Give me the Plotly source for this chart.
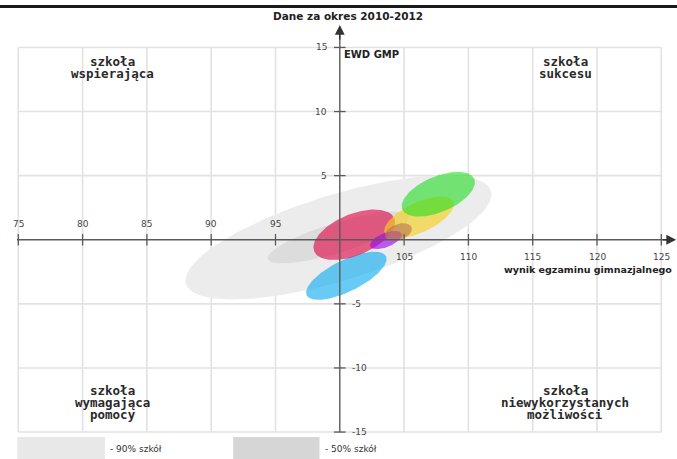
import numpy as np
import plotly.graph_objects as go

# ---------------- data ----------------
x_ticks = [75, 80, 85, 90, 95, 100, 105, 110, 115, 120, 125]
y_ticks = [-15, -10, -5, 0, 5, 10, 15]
x_labels_above = [75, 80, 85, 90, 95]
x_labels_below = [105, 110, 115, 120, 125]
y_labels_left = [5, 10, 15]
y_labels_right = [-5, -10, -15]

# ellipses: centre (x = wynik egzaminu, y = EWD), semi-axes and tilt (deg)
ell_names = ["90% szkół", "50% szkół", "A", "B", "C", "D", "E", "F"]
ell_cx = [99.90, 99.90, 100.51, 101.12, 106.17, 107.66, 103.59, 104.56]
ell_cy = [0.18, 0.18, -2.81, 0.39, 1.74, 3.55, -0.02, 0.60]
ell_a = [12.4, 5.75, 3.44, 3.37, 2.95, 3.04, 1.32, 1.09]
ell_b = [3.35, 1.17, 1.23, 1.61, 1.17, 1.39, 0.55, 0.62]
ell_angle = [17, 17, 26.3, 22.5, 25, 23, 22, 20]
ell_colors = ["#ececec", "#dcdcdc",
              "rgba(9,171,240,0.62)", "rgba(222,12,74,0.64)",
              "rgba(245,209,32,0.65)", "rgba(34,222,34,0.6)",
              "rgba(160,10,235,0.65)", "rgba(190,120,80,0.65)"]

quadrant_texts = [["szkoła", "wspierająca"], ["szkoła", "sukcesu"],
                  ["szkoła", "wymagająca", "pomocy"],
                  ["szkoła", "niewykorzystanych", "możliwości"]]
legend_labels = ["- 90% szkół", "- 50% szkół"]
legend_colors = ["#e8e8e8", "#d6d6d6"]

title_text = "Dane za okres 2010-2012"
y_title = "EWD GMP"
x_title = "wynik egzaminu gimnazjalnego"

# ---------------- layout helpers ----------------
W, H = 677, 459
PXU_X, PXU_Y = 12.86, 12.82
X0_PX, Y0_PX = 18.3, 239.75  # pixel of x=75 and y=0
xr = [75 - X0_PX / PXU_X, 75 + (W - X0_PX) / PXU_X]
yr = [-(H - Y0_PX) / PXU_Y, Y0_PX / PXU_Y]


def px(xp):
    return xp / W


def py(yp):
    return 1 - yp / H


fig = go.Figure()

t = np.linspace(0, 2 * np.pi, 181)
for n, cx, cy, a, b, ang, col in zip(ell_names, ell_cx, ell_cy, ell_a, ell_b, ell_angle, ell_colors):
    th = np.deg2rad(ang)
    X = cx + a * np.cos(t) * np.cos(th) - b * np.sin(t) * np.sin(th)
    Y = cy + a * np.cos(t) * np.sin(th) + b * np.sin(t) * np.cos(th)
    fig.add_trace(go.Scatter(x=X, y=Y, mode="lines", fill="toself", fillcolor=col,
                             line=dict(width=0), name=n, hoverinfo="skip", showlegend=False))

shapes = []
grid_col = "#e2e2e2"
for v in x_ticks:
    if v != 100:
        shapes.append(dict(type="line", x0=v, x1=v, y0=-15, y1=15, xref="x", yref="y",
                           line=dict(color=grid_col, width=1.6), layer="below"))
for v in y_ticks:
    if v != 0:
        shapes.append(dict(type="line", x0=75, x1=125, y0=v, y1=v, xref="x", yref="y",
                           line=dict(color=grid_col, width=1.6), layer="below"))
axis_col = "#5a5a5a"
# axis lines
shapes.append(dict(type="line", x0=74.9, x1=126.0, y0=0, y1=0, line=dict(color=axis_col, width=1.4)))
shapes.append(dict(type="line", x0=100, x1=100, y0=-15, y1=16.3, line=dict(color=axis_col, width=1.4)))
for v in x_ticks:
    if v != 100:
        shapes.append(dict(type="line", x0=v, x1=v, y0=-0.45, y1=0.45, line=dict(color=axis_col, width=1.3)))
for v in y_ticks:
    if v != 0:
        shapes.append(dict(type="line", x0=99.55, x1=100.45, y0=v, y1=v, line=dict(color=axis_col, width=1.3)))
# header line
shapes.append(dict(type="line", xref="paper", yref="paper", x0=0, x1=1, y0=py(6.5), y1=py(6.5),
                   line=dict(color="#1a1a1a", width=3)))
# legend swatches
leg_x = [(17.3, 104.9), (233.2, 319.5)]
for (a0, a1), c in zip(leg_x, legend_colors):
    shapes.append(dict(type="rect", xref="paper", yref="paper", x0=px(a0), x1=px(a1),
                       y0=0, y1=py(437), line=dict(width=0), fillcolor=c))

ann = []
tick_font = dict(family="DejaVu Sans", size=9, color="#444")
for v in x_labels_above:
    ann.append(dict(x=v, y=0, text=str(v), showarrow=False, yshift=16, font=tick_font))
for v in x_labels_below:
    ann.append(dict(x=v, y=0, text=str(v), showarrow=False, yshift=-17, font=tick_font))
for v in y_labels_left:
    ann.append(dict(x=100, y=v, text=str(v), showarrow=False, xanchor="right", xshift=-11, font=tick_font))
for v in y_labels_right:
    ann.append(dict(x=100, y=v, text=str(v), showarrow=False, xanchor="left", xshift=10, font=tick_font))

# arrow heads
ann.append(dict(x=126.15, y=0, ax=125.0, ay=0, axref="x", ayref="y", text="", showarrow=True,
                arrowhead=2, arrowsize=1.4, arrowwidth=1.4, arrowcolor="#333", standoff=0))
ann.append(dict(x=100, y=16.75, ax=100, ay=15.5, axref="x", ayref="y", text="", showarrow=True,
                arrowhead=2, arrowsize=1.4, arrowwidth=1.4, arrowcolor="#333", standoff=0))

quad_font = dict(family="DejaVu Sans Mono", size=12.5, color="#2a2a2a", weight="bold")
quad_pos = [(113, [61.5, 74]), (565, [61.5, 74]), (113, [390, 402.5, 414.5]), (565, [390, 402.5, 414.5])]
for lines, (qx, qys) in zip(quadrant_texts, quad_pos):
    for s, qy in zip(lines, qys):
        ann.append(dict(xref="paper", yref="paper", x=px(qx), y=py(qy), text=s, showarrow=False,
                        xanchor="center", yanchor="middle", font=quad_font))

ann.append(dict(xref="paper", yref="paper", x=px(348), y=py(16), text=title_text, showarrow=False,
                xanchor="center", yanchor="middle",
                font=dict(family="DejaVu Sans", size=10.5, color="#222", weight="bold")))
ann.append(dict(xref="paper", yref="paper", x=px(342), y=py(54), text=y_title, showarrow=False,
                xanchor="left", yanchor="middle",
                font=dict(family="DejaVu Sans", size=10, color="#222", weight="bold")))
ann.append(dict(xref="paper", yref="paper", x=px(674), y=py(269.5), text=x_title, showarrow=False,
                xanchor="right", yanchor="middle",
                font=dict(family="DejaVu Sans", size=9.5, color="#222", weight="bold")))
for (a0, a1), s in zip(leg_x, legend_labels):
    ann.append(dict(xref="paper", yref="paper", x=px(a1 + 3), y=py(448.5), text=s, showarrow=False,
                    xanchor="left", yanchor="middle",
                    font=dict(family="DejaVu Sans", size=9, color="#333")))

fig.update_layout(
    width=W, height=H, margin=dict(l=0, r=0, t=0, b=0),
    paper_bgcolor="white", plot_bgcolor="white",
    xaxis=dict(range=xr, visible=False, fixedrange=True),
    yaxis=dict(range=yr, visible=False, fixedrange=True),
    shapes=shapes, annotations=ann, showlegend=False,
)
fig.write_html("out.html", config={"displayModeBar": False},
               post_script="document.body.style.margin='0px';document.body.style.overflow='hidden';")
